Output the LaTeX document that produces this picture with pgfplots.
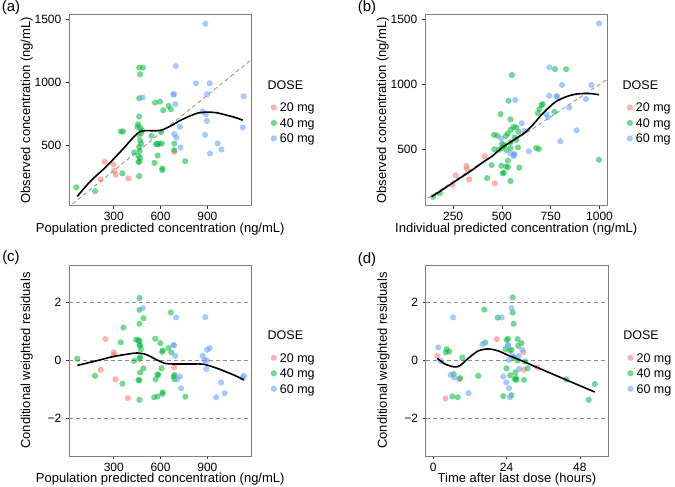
\documentclass[border=0pt]{standalone}
\usepackage{fontspec}
\setmainfont{Liberation Sans}
\usepackage{pgfplots}
\pgfplotsset{compat=1.18}
\definecolor{cred}{HTML}{F8766D}
\definecolor{cgreen}{HTML}{00BA38}
\definecolor{cblue}{HTML}{619CFF}
\definecolor{framegray}{HTML}{808080}
\definecolor{tickgray}{HTML}{333333}
\definecolor{dashgray}{HTML}{8C8C8C}
\pgfplotsset{
  panel/.style={
    scale only axis, width=182.5pt, height=191pt, anchor=south west,
    clip mode=individual,
    axis line style={draw=framegray, line width=0.9pt},
    tick align=outside, tick pos=left, major tick length=3pt,
    tick style={draw=tickgray, line width=0.6pt},
    scaled ticks=false,
    /pgf/number format/assume math mode=true,
    /pgf/number format/1000 sep={},
    every tick label/.append style={font=\fontsize{12}{12}\selectfont, text=black},
    xticklabel style={inner sep=0pt, anchor=north, yshift=-3.5pt},
    yticklabel style={inner sep=0pt, anchor=east, xshift=-4.5pt},
    xlabel style={font=\fontsize{13}{14}\selectfont, inner sep=0pt, at={(axis description cs:0.5,-0.1204)}, anchor=center},
    ylabel style={font=\fontsize{13}{14}\selectfont, inner sep=0pt, at={(axis description cs:-0.2308,0.5)}, anchor=center},
    legend style={draw=none, fill=none, at={(axis description cs:1,0.433)}, anchor=west, xshift=19pt,
      font=\fontsize{12.5}{13}\selectfont, inner sep=0pt, row sep=3pt,
      nodes={inner xsep=3pt, inner ysep=0pt, text height=10.5pt, text depth=2pt}},
    legend cell align=left,
    legend image code/.code={\draw[##1] plot coordinates {(3pt,0pt)};},
  },
  pts/.style={only marks, mark=*, mark size=3.1pt, color=#1, mark options={fill=#1, draw opacity=0, fill opacity=0.55}},
  fit/.style={black, line width=1.6pt, smooth, no marks, forget plot},
  ref/.style={dashgray, line width=0.8pt, dash pattern=on 4pt off 3pt, no marks, forget plot},
}
\newcommand{\dosetitle}[1]{\node[anchor=west, inner sep=0pt, font=\fontsize{12.5}{13}\selectfont] at (axis description cs:1,0.632) [xshift=#1] {DOSE};}
\begin{document}
\begin{tikzpicture}
\path[use as bounding box] (0pt,0pt) rectangle (675pt,487pt);
\node[font=\fontsize{15}{15}\selectfont] at (11pt,479pt) {(a)};
\node[font=\fontsize{15}{15}\selectfont] at (367pt,479pt) {(b)};
\node[font=\fontsize{15}{15}\selectfont] at (11pt,229pt) {(c)};
\node[font=\fontsize{15}{15}\selectfont] at (367pt,227pt) {(d)};

% ---------------- (a)
\begin{axis}[panel, at={(69pt,281.3pt)},
  xmin=13, xmax=1183, ymin=21, ymax=1540,
  xtick={300,600,900}, ytick={500,1000,1500},
  xlabel={Population predicted concentration (ng/mL)},
  ylabel={Observed concentration (ng/mL)}]
\addplot[ref] coordinates {(0,0) (1300,1300)};
\addplot[pts=cred] coordinates {(216,230) (242,370) (298,349) (302,298) (313,267) (394,238) (688,449)};
\addlegendentry{20 mg}
\addplot[pts=cgreen] coordinates {(60,167) (180,137) (355,278) (345,611) (360,611) (431,444) (452,648) (456,669) (463,730) (463,1119) (488,1119) (469,1066) (463,875) (463,584) (469,539) (475,516) (463,489) (458,417) (469,402) (463,256) (466,457) (465,372) (458,370) (480,620) (542,576) (565,841) (596,849) (571,511) (580,511) (590,513) (581,420) (561,362) (611,317) (611,304) (651,814) (666,788) (617,780) (608,516) (604,606) (688,516) (688,463) (758,375) (470,640) (475,600)};
\addlegendentry{40 mg}
\addplot[pts=cblue] coordinates {(484,881) (887,1468) (698,1132) (827,994) (915,994) (1133,891) (681,907) (687,907) (898,907) (694,828) (870,770) (891,748) (898,695) (724,648) (1127,643) (688,590) (702,563) (885,584) (728,484) (966,516) (990,468) (917,436)};
\addlegendentry{60 mg}
\addplot[fit] coordinates {(66,95) (150,215) (250,330) (350,460) (430,570) (470,612) (500,618) (550,617) (600,620) (640,640) (680,665) (720,695) (780,730) (840,758) (900,765) (960,760) (1020,742) (1080,722) (1127,701)};
\dosetitle{16pt}
\end{axis}

% ---------------- (b)
\begin{axis}[panel, at={(425pt,281.3pt)},
  xmin=106, xmax=1041, ymin=62, ymax=1539,
  xtick={250,500,750,1000}, ytick={500,1000,1500},
  xlabel={Individual predicted concentration (ng/mL)},
  ylabel={Observed concentration (ng/mL)}]
\addplot[ref] coordinates {(0,0) (1300,1300)};
\addplot[pts=cred] coordinates {(264,297) (247,224) (318,369) (321,345) (332,266) (412,444) (463,235)};
\addlegendentry{20 mg}
\addplot[pts=cgreen] coordinates {(148,131) (182,158) (424,276) (447,376) (461,498) (459,610) (476,603) (493,770) (534,873) (551,1072) (544,730) (497,371) (504,312) (510,318) (531,410) (522,492) (544,508) (510,533) (500,540) (544,552) (573,570) (565,590) (530,620) (545,650) (560,670) (520,600) (544,253) (522,365) (531,360) (573,668) (585,634) (582,513) (589,356) (676,508) (689,500) (684,778) (692,809) (709,848) (703,840) (769,788) (772,1118) (829,1118) (997,417) (485,495) (500,510)};
\addlegendentry{40 mg}
\addplot[pts=cblue] coordinates {(998,1471) (743,1131) (808,995) (959,995) (568,879) (742,912) (783,907) (779,907) (931,886) (845,822) (727,770) (735,745) (602,699) (616,641) (883,645) (799,560) (638,482) (565,461) (560,445) (497,583) (544,467) (561,456)};
\addlegendentry{60 mg}
\addplot[fit] coordinates {(140,131) (200,190) (250,240) (300,290) (350,340) (400,395) (450,445) (500,510) (550,560) (580,590) (620,630) (660,690) (700,760) (740,820) (780,870) (830,905) (880,925) (930,930) (960,928) (998,920)};
\dosetitle{15pt}
\end{axis}

% ---------------- (c)
\begin{axis}[panel, at={(69pt,31pt)},
  xmin=13, xmax=1183, ymin=-3.3, ymax=3.3,
  xtick={300,600,900}, ytick={-2,0,2}, yticklabels={−2,0,2},
  xlabel={Population predicted concentration (ng/mL)},
  ylabel={Conditional weighted residuals}]
\addplot[ref] coordinates {(13,2) (1183,2)};
\addplot[ref] coordinates {(13,0) (1183,0)};
\addplot[ref] coordinates {(13,-2) (1183,-2)};
\addplot[pts=cred] coordinates {(246,0.74) (300,0.28) (300,0.20) (216,-0.32) (311,-0.65) (390,-1.30) (688,-0.23)};
\addlegendentry{20 mg}
\addplot[pts=cgreen] coordinates {(66,0.06) (180,-0.53) (362,1.14) (345,0.63) (356,-0.80) (431,-0.01) (444,0.72) (458,0.70) (465,0.68) (465,2.16) (465,1.75) (491,1.46) (465,1.27) (469,0.51) (474,0.39) (469,0.12) (465,0.06) (491,-0.27) (469,-0.41) (458,-0.67) (465,-0.69) (465,-1.36) (566,0.75) (598,0.60) (615,0.35) (610,0.30) (651,0.43) (669,0.28) (606,-0.27) (580,-0.48) (586,-0.50) (568,-0.65) (559,-1.27) (581,-1.24) (613,-1.10) (613,-1.15) (759,-1.25) (684,-0.55) (688,-0.65) (690,-0.50) (666,1.66) (465,0.55)};
\addlegendentry{40 mg}
\addplot[pts=cblue] coordinates {(487,1.81) (700,1.49) (887,1.50) (683,0.54) (686,0.52) (694,0.16) (870,0.16) (898,0.37) (915,0.43) (881,0.02) (898,-0.01) (893,-0.29) (724,-0.55) (707,-0.65) (732,-0.96) (988,-0.76) (1011,-1.13) (956,-1.27) (1134,-0.53) (1127,-0.60)};
\addlegendentry{60 mg}
\addplot[fit] coordinates {(66,-0.17) (212,0.02) (300,0.14) (427,0.25) (469,0.25) (512,0.20) (576,0.02) (630,-0.10) (684,-0.12) (813,-0.12) (877,-0.13) (962,-0.27) (1069,-0.50) (1134,-0.67)};
\dosetitle{16pt}
\end{axis}

% ---------------- (d)
\begin{axis}[panel, at={(425.7pt,31pt)},
  xmin=-2.5, xmax=57.3, ymin=-3.3, ymax=3.3,
  xtick={0,24,48}, ytick={-2,0,2}, yticklabels={−2,0,2},
  xlabel={Time after last dose (hours)},
  ylabel={Conditional weighted residuals}]
\addplot[ref] coordinates {(-2.5,2) (57.3,2)};
\addplot[ref] coordinates {(-2.5,0) (57.3,0)};
\addplot[ref] coordinates {(-2.5,-2) (57.3,-2)};
\addplot[pts=cred] coordinates {(1.3,0.16) (4.0,-1.31) (8.5,-0.65) (20.8,0.74) (29.6,0.29) (29.7,-0.32) (34.1,-0.24)};
\addlegendentry{20 mg}
\addplot[pts=cgreen] coordinates {(4.4,0.39) (5.2,0.31) (4.1,0.28) (9.5,0.10) (6.7,-0.47) (8.8,-0.61) (6.2,-1.24) (8.0,-1.27) (14.7,-0.53) (16.7,1.76) (17.0,0.62) (21.1,1.48) (22.9,-1.23) (23.6,0.39) (24.0,0.71) (24.5,0.75) (24.0,-0.27) (25.2,-0.51) (25.6,-1.20) (26.0,2.18) (26.0,1.66) (26.3,1.27) (25.1,0.35) (25.6,0.37) (26.7,-0.65) (27.3,-0.67) (26.9,-0.41) (27.6,0.74) (27.8,0.51) (28.9,0.60) (27.6,0.0) (30.1,-0.03) (30.9,-0.27) (29.7,-0.67) (43.6,-0.65) (50.9,-1.36) (52.9,-0.81) (26.5,0.10) (27.0,-0.60)};
\addlegendentry{40 mg}
\addplot[pts=cblue] coordinates {(1.6,0.45) (2.4,-0.01) (6.5,1.49) (5.7,-0.50) (6.9,-0.59) (11.5,-1.13) (16.1,0.56) (22.4,1.49) (25.6,1.81) (22.9,-0.55) (23.9,-0.76) (24.5,0.51) (24.8,0.02) (24.8,-0.96) (25.1,-1.27) (25.9,0.17) (28.0,0.16) (28.1,-0.29) (29.1,0.37) (24.5,0.54)};
\addlegendentry{60 mg}
\addplot[fit] coordinates {(1.3,0.07) (3.8,-0.12) (6.8,-0.22) (8.7,-0.18) (11.5,0.08) (14.7,0.33) (18.0,0.40) (21.3,0.33) (24.5,0.18) (29,-0.01) (34,-0.24) (44,-0.69) (52.9,-1.09)};
\dosetitle{15pt}
\end{axis}
\end{tikzpicture}
\end{document}
